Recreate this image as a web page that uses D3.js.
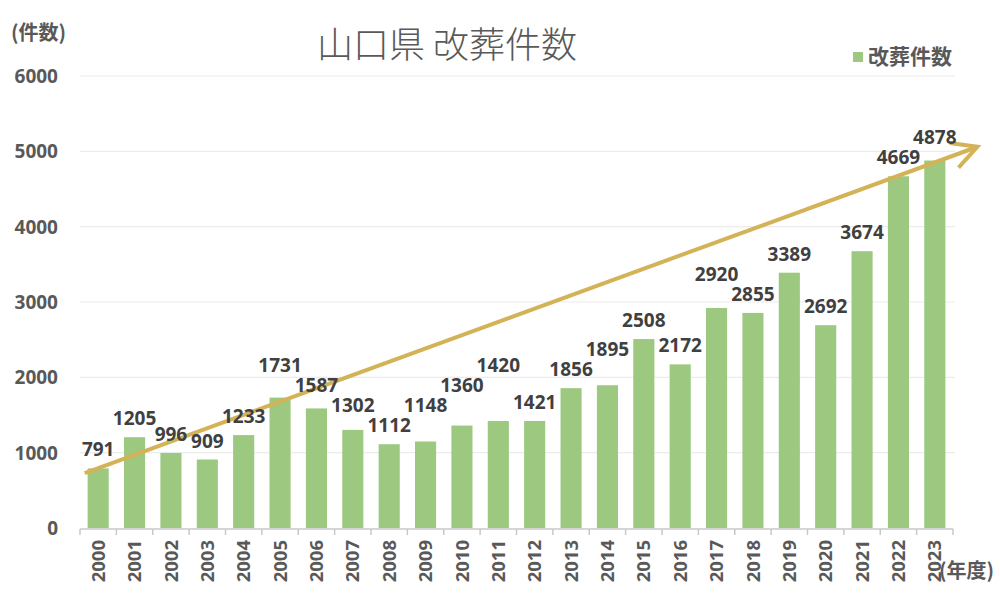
<!DOCTYPE html>
<html><head><meta charset="utf-8">
<script src="https://cdn.jsdelivr.net/npm/d3@7"></script>
<style>body{margin:0;background:#fff}</style>
</head><body>
<svg id="c" width="1000" height="599"></svg>
<script>
const years = ["2000","2001","2002","2003","2004","2005","2006","2007","2008","2009","2010","2011","2012","2013","2014","2015","2016","2017","2018","2019","2020","2021","2022","2023"];
const counts = [791,1205,996,909,1233,1731,1587,1302,1112,1148,1360,1420,1421,1856,1895,2508,2172,2920,2855,3389,2692,3674,4669,4878];
const yTicks = [0,1000,2000,3000,4000,5000,6000];
const trendStart = {index:-0.37, value:730};
const trendEnd = {index:24.17, value:5060};

(function(){
const svg = d3.select("#c");
const pLeft=80, pRight=953, pTop=76, pBottom=528;
const x = d3.scaleBand().domain(years).range([pLeft,pRight]).paddingInner(0.42).paddingOuter(0.21);
const y = d3.scaleLinear().domain([0,6000]).range([pBottom,pTop]);
const font = "'Open Sans','Noto Sans CJK JP',sans-serif";
const cjk = "'Noto Sans CJK JP',sans-serif";
const txt = "#595959";

// grid
svg.append("g").selectAll("line").data(yTicks.slice(1)).join("line")
  .attr("x1",pLeft).attr("x2",955).attr("y1",d=>y(d)).attr("y2",d=>y(d))
  .attr("stroke","#ececec").attr("stroke-width",1.2);

// y tick labels
svg.append("g").selectAll("text").data(yTicks).join("text")
  .attr("x",58).attr("y",d=>y(d)).attr("dy","0.36em").attr("text-anchor","end")
  .attr("font-family",font).attr("font-weight",700).attr("font-size",19).attr("fill",txt)
  .text(d=>d);

// bars
svg.append("g").selectAll("rect").data(years).join("rect")
  .attr("x",d=>x(d)).attr("width",x.bandwidth())
  .attr("y",(d,i)=>y(counts[i])).attr("height",(d,i)=>y(0)-y(counts[i]))
  .attr("fill","#9cc87f");

// x axis
const step = x.step();
const ax = svg.append("g");
ax.append("line").attr("x1",pLeft).attr("x2",pRight).attr("y1",pBottom+1).attr("y2",pBottom+1)
  .attr("stroke","#c8c8c8").attr("stroke-width",1.5);
const bounds = d3.range(years.length+1).map(i=>pLeft+i*step);
ax.selectAll("line.t").data(bounds).join("line").attr("class","t")
  .attr("x1",d=>d).attr("x2",d=>d).attr("y1",pBottom+1).attr("y2",pBottom+7)
  .attr("stroke","#c8c8c8").attr("stroke-width",1.5);
ax.selectAll("text").data(years).join("text")
  .attr("transform",d=>`translate(${x(d)+x.bandwidth()/2},540) rotate(-90)`)
  .attr("text-anchor","end").attr("dy","0.36em")
  .attr("font-family",font).attr("font-weight",700).attr("font-size",18.5).attr("fill",txt)
  .text(d=>d);

// trend arrow
const px = i => x(years[0]) + x.bandwidth()/2 + i*step;
const x1=px(trendStart.index), y1=y(trendStart.value), x2=px(trendEnd.index), y2=y(trendEnd.value);
const ang = Math.atan2(y2-y1,x2-x1);
const headLen=28, headAng=Math.PI/6.5;
const arrowCol="#d4b257";
svg.append("line").attr("x1",x1).attr("y1",y1).attr("x2",x2-2*Math.cos(ang)).attr("y2",y2-2*Math.sin(ang))
  .attr("stroke",arrowCol).attr("stroke-width",4);
svg.append("path")
  .attr("d",`M${x2-headLen*Math.cos(ang-headAng)},${y2-headLen*Math.sin(ang-headAng)} L${x2},${y2} L${x2-headLen*Math.cos(ang+headAng)},${y2-headLen*Math.sin(ang+headAng)}`)
  .attr("fill","none").attr("stroke",arrowCol).attr("stroke-width",4).attr("stroke-linejoin","miter");

// data labels with simple collision relaxation (the taller bar's label moves up)
const labels = svg.append("g").selectAll("text").data(years).join("text")
  .attr("x",d=>x(d)+x.bandwidth()/2).attr("y",(d,i)=>y(counts[i])-12)
  .attr("text-anchor","middle")
  .attr("font-family",font).attr("font-weight",700).attr("font-size",19).attr("fill","#404040")
  .text((d,i)=>counts[i]);
const nodes = labels.nodes();
const boxes = nodes.map(n=>{const b=n.getBBox(); return {x0:b.x+3,x1:b.x+b.width-3,y0:b.y+4,y1:b.y+b.height-4,dy:0};});
for (let pass=0; pass<6; pass++){
  for (let i=1;i<boxes.length;i++){
    for (let j=Math.max(0,i-2); j<i; j++){
      const a=boxes[i], o=boxes[j];
      if (a.x0<o.x1 && a.x1>o.x0 && a.y0<o.y1 && a.y1>o.y0){
        const mv = counts[i]>=counts[j] ? a : o;
        const other = mv===a ? o : a;
        const d = mv.y1 - other.y0 + 2;
        mv.y0-=d; mv.y1-=d; mv.dy-=d;
      }
    }
  }
}
nodes.forEach((n,i)=>n.setAttribute("y", +n.getAttribute("y")+boxes[i].dy));

// title
svg.append("text").attr("x",447).attr("y",58).attr("text-anchor","middle")
  .attr("font-family",cjk).attr("font-weight",300).attr("font-size",36).attr("fill",txt)
  .text("山口県 改葬件数");

// axis titles
svg.append("text").attr("x",11).attr("y",40)
  .attr("font-family",cjk).attr("font-weight",700).attr("font-size",20).attr("fill",txt)
  .text("(件数)");
svg.append("text").attr("x",939).attr("y",578)
  .attr("font-family",cjk).attr("font-weight",700).attr("font-size",20).attr("fill",txt)
  .text("(年度)");

// legend
svg.append("rect").attr("x",853).attr("y",52).attr("width",10).attr("height",10).attr("fill","#9cc87f");
svg.append("text").attr("x",868).attr("y",64)
  .attr("font-family",cjk).attr("font-weight",700).attr("font-size",21).attr("fill",txt)
  .text("改葬件数");
})();
</script>
</body></html>
